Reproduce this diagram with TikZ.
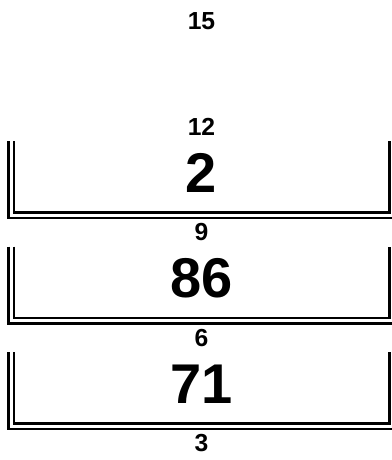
\documentclass[tikz,border=0pt]{standalone}
\usepackage{fontspec}
\setmainfont{Liberation Sans}
\begin{document}
\begin{tikzpicture}[x=0.75pt,y=-0.75pt,
  addr/.style={font=\fontsize{18.5}{18.5}\selectfont\bfseries, inner sep=0pt, anchor=center},
  val/.style={font=\fontsize{42}{42}\selectfont\bfseries, inner sep=0pt, anchor=center},
  wall/.style={line width=2pt, line join=miter, line cap=butt}]
\useasboundingbox (0,0) rectangle (392,460);
% boxes
\foreach \t/\v/\n in {141/2/a, 246.5/86/b, 352/71/c}{
  \draw[wall] (14,\t) -- (14,\t+71.5) -- (389.5,\t+71.5) -- (389.5,\t);
  \draw[wall] (8.5,\t) -- (8.5,\t+77) -- (392,\t+77);
  \node[val] (v\n) at (201.5,\t+32) {\v};
}
\node[addr] (l15) at (201.5,21) {15};
\node[addr] (l12) at (201.5,127) {12};
\node[addr] (l9) at (201.5,232.5) {9};
\node[addr] (l6) at (201.5,338) {6};
\node[addr] (l3) at (201.5,443.5) {3};
\end{tikzpicture}
\end{document}
